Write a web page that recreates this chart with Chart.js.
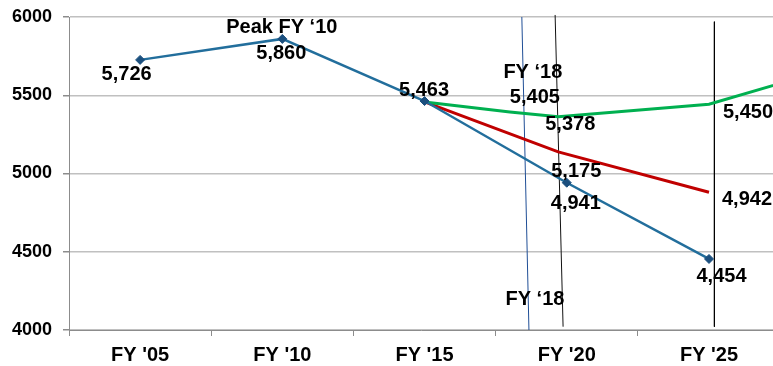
<!DOCTYPE html>
<html>
<head>
<meta charset="utf-8">
<script src="https://cdn.jsdelivr.net/npm/chart.js@4/dist/chart.umd.min.js"></script>
<style>
  html, body { margin: 0; padding: 0; background: #ffffff; overflow: hidden; }
  #wrap { width: 773px; height: 366px; }
</style>
</head>
<body>
<div id="wrap"><canvas id="chart" width="773" height="366"></canvas></div>
<script>
// Fiscal years and axis labels
const years = [2005, 2010, 2015, 2020, 2025];
const yearLabels = ["FY '05", "FY '10", "FY '15", "FY '20", "FY '25"];
const yTicks = [4000, 4500, 5000, 5500, 6000];

// Historical / baseline trend (blue)
const baselineValues = [5726, 5860, 5463, 4941, 4454];

// Lower projection (red)
const redYears = [2015, 2019.7, 2025];
const redValues = [5463, 5175, 4942];

// Upper projection (green)
const greenYears = [2015, 2018, 2019.7, 2025, 2030];
const greenValues = [5463, 5405, 5378, 5450, 5690];

// Reference lines: [year at top, value at top, year at bottom, value at bottom]
const fy18Line = [2018.42, 6000, 2018.67, 4000];
const fy20Line = [2019.59, 6013, 2019.87, 4021];
const fy25Line = [2025.19, 5970, 2025.19, 4021];

const FONT = "'Liberation Sans', Arial, sans-serif";

const toPoints = (xs, vs) => xs.map((x, i) => ({ x: x, y: vs[i] }));
const segment = (l) => [{ x: l[0], y: l[1] }, { x: l[2], y: l[3] }];

// Text annotations: dataset index, point index, offsets, alignment, optional text
const labelSpecs = [
  { ds: 0, i: 0, dx: -13.5, dy: 20, align: 'center' },
  { ds: 0, i: 1, dx: -1, dy: 20, align: 'center' },
  { ds: 0, i: 1, dx: -0.5, dy: -6, align: 'center', text: 'Peak FY \u201810' },
  { ds: 0, i: 2, dx: -0.5, dy: -5, align: 'center' },
  { ds: 0, i: 3, dx: 9, dy: 26, align: 'center' },
  { ds: 0, i: 4, dx: 12.5, dy: 23, align: 'center' },
  { ds: 2, i: 1, dx: 25, dy: -9, align: 'center' },
  { ds: 2, i: 2, dx: 12, dy: 13, align: 'center' },
  { ds: 2, i: 3, dx: 14, dy: 14, align: 'left' },
  { ds: 1, i: 1, dx: 18, dy: 25, align: 'center' },
  { ds: 1, i: 2, dx: 13, dy: 13, align: 'left' }
];
// Captions attached to the FY '18 reference line (0 = top end, 1 = bottom end)
const lineCaptions = [
  { ds: 5, i: 0, dx: 11, dy: 61, text: 'FY \u201818' },
  { ds: 5, i: 1, dx: 6, dy: -25, text: 'FY \u201818' }
];

const labelPlugin = {
  id: 'valueLabels',
  afterDatasetsDraw(chart) {
    const ctx = chart.ctx;
    ctx.save();
    ctx.fillStyle = '#000000';
    ctx.font = 'bold 20px ' + FONT;
    ctx.textBaseline = 'alphabetic';
    labelSpecs.forEach(s => {
      const el = chart.getDatasetMeta(s.ds).data[s.i];
      const raw = chart.data.datasets[s.ds].data[s.i].y;
      const txt = s.text || raw.toLocaleString('en-US');
      ctx.textAlign = s.align;
      ctx.fillText(txt, el.x + s.dx, el.y + s.dy);
    });
    ctx.textAlign = 'center';
    lineCaptions.forEach(s => {
      const el = chart.getDatasetMeta(s.ds).data[s.i];
      ctx.fillText(s.text, el.x + s.dx, el.y + s.dy);
    });
    ctx.restore();
  }
};

new Chart(document.getElementById('chart'), {
  type: 'line',
  data: {
    datasets: [
      {
        data: toPoints(years, baselineValues),
        borderColor: '#226E9C',
        borderWidth: 2.5,
        pointStyle: 'rectRot',
        pointRadius: 4.5,
        pointBackgroundColor: '#1B4F7E',
        pointBorderColor: '#1B4F7E',
        pointBorderWidth: 1,
        yAxisID: 'y',
        order: 1
      },
      {
        data: toPoints(redYears, redValues),
        borderColor: '#C00000',
        borderWidth: 3,
        pointRadius: 0,
        yAxisID: 'y2',
        order: 3
      },
      {
        data: toPoints(greenYears, greenValues),
        borderColor: '#00B050',
        borderWidth: 3,
        pointRadius: 0,
        yAxisID: 'y2',
        order: 2
      },
      {
        data: segment(fy20Line),
        borderColor: '#111111',
        borderWidth: 1,
        pointRadius: 0,
        yAxisID: 'y',
        clip: false,
        order: 4
      },
      {
        data: segment(fy25Line),
        borderColor: '#000000',
        borderWidth: 1,
        pointRadius: 0,
        yAxisID: 'y',
        clip: false,
        order: 4
      },
      {
        data: segment(fy18Line),
        borderColor: '#1F4E96',
        borderWidth: 1,
        pointRadius: 0,
        yAxisID: 'y',
        clip: false,
        order: 4
      }
    ]
  },
  options: {
    responsive: false,
    animation: false,
    events: [],
    layout: { autoPadding: false, padding: { top: 17, right: 0, bottom: 0, left: 0 } },
    plugins: {
      legend: { display: false },
      tooltip: { enabled: false }
    },
    elements: { line: { tension: 0 } },
    scales: {
      x: {
        type: 'linear',
        min: 2002.5,
        max: 2027.25,
        afterBuildTicks(scale) {
          const vals = years.map(y => y - 2.5).concat(years).sort((a, b) => a - b);
          scale.ticks = vals.map(v => ({ value: v }));
        },
        afterFit(scale) {
          scale.height = 36;
          scale.paddingLeft = 0;
          scale.paddingRight = 0;
        },
        ticks: {
          autoSkip: false,
          maxRotation: 0,
          minRotation: 0,
          padding: 7,
          color: '#000000',
          font: { family: FONT, size: 20, weight: 'bold' },
          callback(value) {
            const i = years.indexOf(value);
            return i >= 0 ? yearLabels[i] : '';
          }
        },
        grid: {
          drawOnChartArea: false,
          drawTicks: true,
          tickLength: 6,
          tickColor: (c) => (c.tick && years.includes(c.tick.value)) ? 'rgba(0,0,0,0)' : '#8C8C8C'
        },
        border: { display: true, color: '#8C8C8C', width: 1 }
      },
      y: {
        min: 4000,
        max: 6000,
        afterBuildTicks(scale) { scale.ticks = yTicks.map(v => ({ value: v })); },
        afterFit(scale) {
          scale.width = 69;
          scale.paddingTop = 0;
          scale.paddingBottom = 0;
        },
        ticks: {
          padding: 11,
          color: '#000000',
          font: { family: FONT, size: 18, weight: 'bold' },
          callback: (v) => String(v)
        },
        grid: {
          color: '#C0C0C0',
          lineWidth: 1.5,
          tickLength: 6,
          tickColor: '#8C8C8C'
        },
        border: { display: true, color: '#8C8C8C', width: 1 }
      },
      y2: {
        display: false,
        min: 4147.5,
        max: 5953
      }
    }
  },
  plugins: [labelPlugin]
});
</script>
</body>
</html>
